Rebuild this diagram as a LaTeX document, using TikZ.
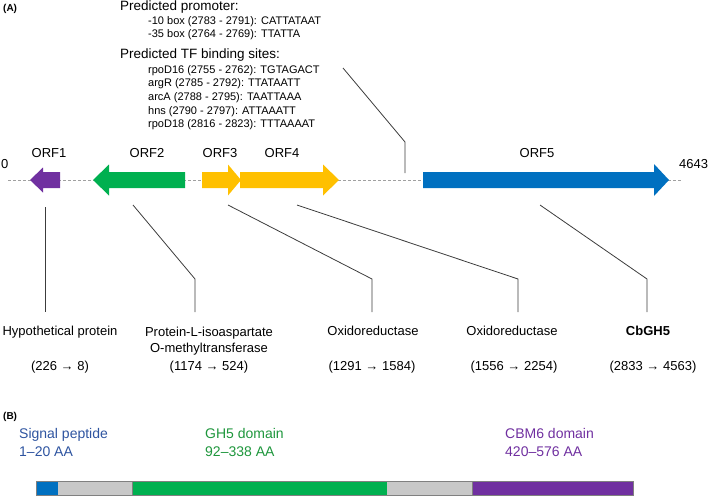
\documentclass[tikz,border=0pt]{standalone}
\usepackage{fontspec}
\setmainfont{Liberation Sans}
\usetikzlibrary{positioning, calc}
\definecolor{orfpurple}{RGB}{112, 48, 160}
\definecolor{orfgreen}{RGB}{0, 176, 80}
\definecolor{orfyellow}{RGB}{255, 192, 0}
\definecolor{orfblue}{RGB}{0, 112, 192}
\definecolor{sigblue}{RGB}{46, 84, 160}
\definecolor{gh5green}{RGB}{30, 150, 60}
\definecolor{linkgray}{RGB}{60, 60, 60}
\definecolor{axisgray}{RGB}{160, 160, 160}
\definecolor{fillgray}{RGB}{200, 200, 200}

\begin{document}
\begin{tikzpicture}[
    x=1pt, y=-1pt,
    txt/.style={inner sep=0pt, font=\fontsize{13}{15}\selectfont},
    promhead/.style={inner sep=0pt, anchor=base west, font=\fontsize{13.5}{15}\selectfont},
    site/.style={inner sep=0pt, anchor=base west, font=\fontsize{11}{13}\selectfont},
    orflabel/.style={txt, anchor=base},
    protlabel/.style={txt, anchor=base, align=center},
    panel/.style={inner sep=0pt, anchor=base west, font=\fontsize{10}{12}\selectfont\bfseries},
    domlabel/.style={inner sep=0pt, anchor=base west, align=left, font=\fontsize{14}{18}\selectfont},
    link/.style={draw=linkgray, line width=0.8pt},
    genomeaxis/.style={draw=axisgray, line width=0.8pt, dash pattern=on 3pt off 2pt}
]
\useasboundingbox (0,0) rectangle (709,496);

% Panel labels
\node[panel] (pa) at (3,11) {(A)};
\node[panel] (pb) at (3,419) {(B)};

% Promoter and TF binding sites
\node[promhead] (prom) at (120,10) {Predicted promoter:};
\node[site] (box10) at (148,24) {-10 box (2783 - 2791): CATTATAAT};
\node[site] (box35) at (148,37.5) {-35 box (2764 - 2769): TTATTA};
\node[promhead] (tfbs) at (120,58) {Predicted TF binding sites:};
\node[site] (tf1) at (148,73) {rpoD16 (2755 - 2762): TGTAGACT};
\node[site] (tf2) at (148,86.5) {argR (2785 - 2792): TTATAATT};
\node[site] (tf3) at (148,100) {arcA (2788 - 2795): TAATTAAA};
\node[site] (tf4) at (148,114) {hns (2790 - 2797): ATTAAATT};
\node[site] (tf5) at (148,127.5) {rpoD18 (2816 - 2823): TTTAAAAT};

% Genome axis
\node[txt, anchor=base west] (start) at (1,168) {0};
\node[txt, anchor=base west] (stop) at (679,168) {4643};
\coordinate (axl) at (8,180);
\coordinate (axr) at (682,180);
\draw[genomeaxis] (axl) -- (axr);

% ORFs
\fill[orfpurple] (60,172) -- (43,172) -- (43,167.5) -- (30,180) -- (43,192.5) -- (43,188) -- (60,188) -- cycle;
\fill[orfgreen] (185,172) -- (109,172) -- (109,164.5) -- (93,180) -- (109,195.5) -- (109,188) -- (185,188) -- cycle;
\fill[orfyellow] (202,172) -- (228,172) -- (228,164.5) -- (241,180) -- (228,195.5) -- (228,188) -- (202,188) -- cycle;
\fill[orfyellow] (240,172) -- (323,172) -- (323,164.5) -- (339,180) -- (323,195.5) -- (323,188) -- (240,188) -- cycle;
\fill[orfblue] (423,172) -- (654,172) -- (654,164) -- (669,180) -- (654,196) -- (654,188) -- (423,188) -- cycle;

\node[orflabel] (orf1) at (49,157) {ORF1};
\node[orflabel] (orf2) at (147,157) {ORF2};
\node[orflabel] (orf3) at (220,157) {ORF3};
\node[orflabel] (orf4) at (282,157) {ORF4};
\node[orflabel] (orf5) at (537,157) {ORF5};

% Protein annotations
\node[protlabel] (p1) at (60,335) {Hypothetical protein};
\node[protlabel] (r1) at (60,370) {(226 → 8)};
\node[protlabel] (p2) at (209,352) {Protein-L-isoaspartate\\[1pt]O-methyltransferase};
\node[protlabel] (r2) at (209,370) {(1174 → 524)};
\node[protlabel] (p3) at (373,335) {Oxidoreductase};
\node[protlabel] (r3) at (372,370) {(1291 → 1584)};
\node[protlabel] (p4) at (512,335) {Oxidoreductase};
\node[protlabel] (r4) at (514,370) {(1556 → 2254)};
\node[protlabel, font=\fontsize{13}{15}\selectfont\bfseries] (p5) at (648,335) {CbGH5};
\node[protlabel] (r5) at (653,370) {(2833 → 4563)};

% Connector points
\coordinate (promtop) at (343,68);
\coordinate (prombend) at (405,142);
\coordinate (promend) at (405,173);
\coordinate (c1a) at (45,207);
\coordinate (c1b) at (45,312);
\coordinate (c2a) at (133,205);
\coordinate (c2m) at (195,279);
\coordinate (c2b) at (195,312);
\coordinate (c3a) at (228,205);
\coordinate (c3m) at (372,279);
\coordinate (c3b) at (372,312);
\coordinate (c4a) at (297,205);
\coordinate (c4m) at (518,279);
\coordinate (c4b) at (518,312);
\coordinate (c5a) at (540,205);
\coordinate (c5m) at (647,279);
\coordinate (c5b) at (647,312);

% Connectors
\draw[link] (promtop) -- (prombend) -- (promend);
\draw[link] (c1a) -- (c1b);
\draw[link] (c2a) -- (c2m) -- (c2b);
\draw[link] (c3a) -- (c3m) -- (c3b);
\draw[link] (c4a) -- (c4m) -- (c4b);
\draw[link] (c5a) -- (c5m) -- (c5b);

% Domain labels
\node[domlabel, text=sigblue] (sig) at (19,456) {Signal peptide\\1–20 AA};
\node[domlabel, text=gh5green] (gh5) at (205,456) {GH5 domain\\92–338 AA};
\node[domlabel, text=orfpurple] (cbm6) at (505,456) {CBM6 domain\\420–576 AA};

% Domain bar
\fill[orfblue] (36,481) rectangle (58,495);
\fill[fillgray] (58,481) rectangle (132,495);
\fill[orfgreen] (132,481) rectangle (387,495);
\fill[fillgray] (387,481) rectangle (472,495);
\fill[orfpurple] (472,481) rectangle (633,495);
\draw[gray, line width=0.7pt] (36,481) rectangle (633,495);
\draw[gray, line width=0.5pt] (132,481) -- (132,495) (472,481) -- (472,495);

\end{tikzpicture}
\end{document}
